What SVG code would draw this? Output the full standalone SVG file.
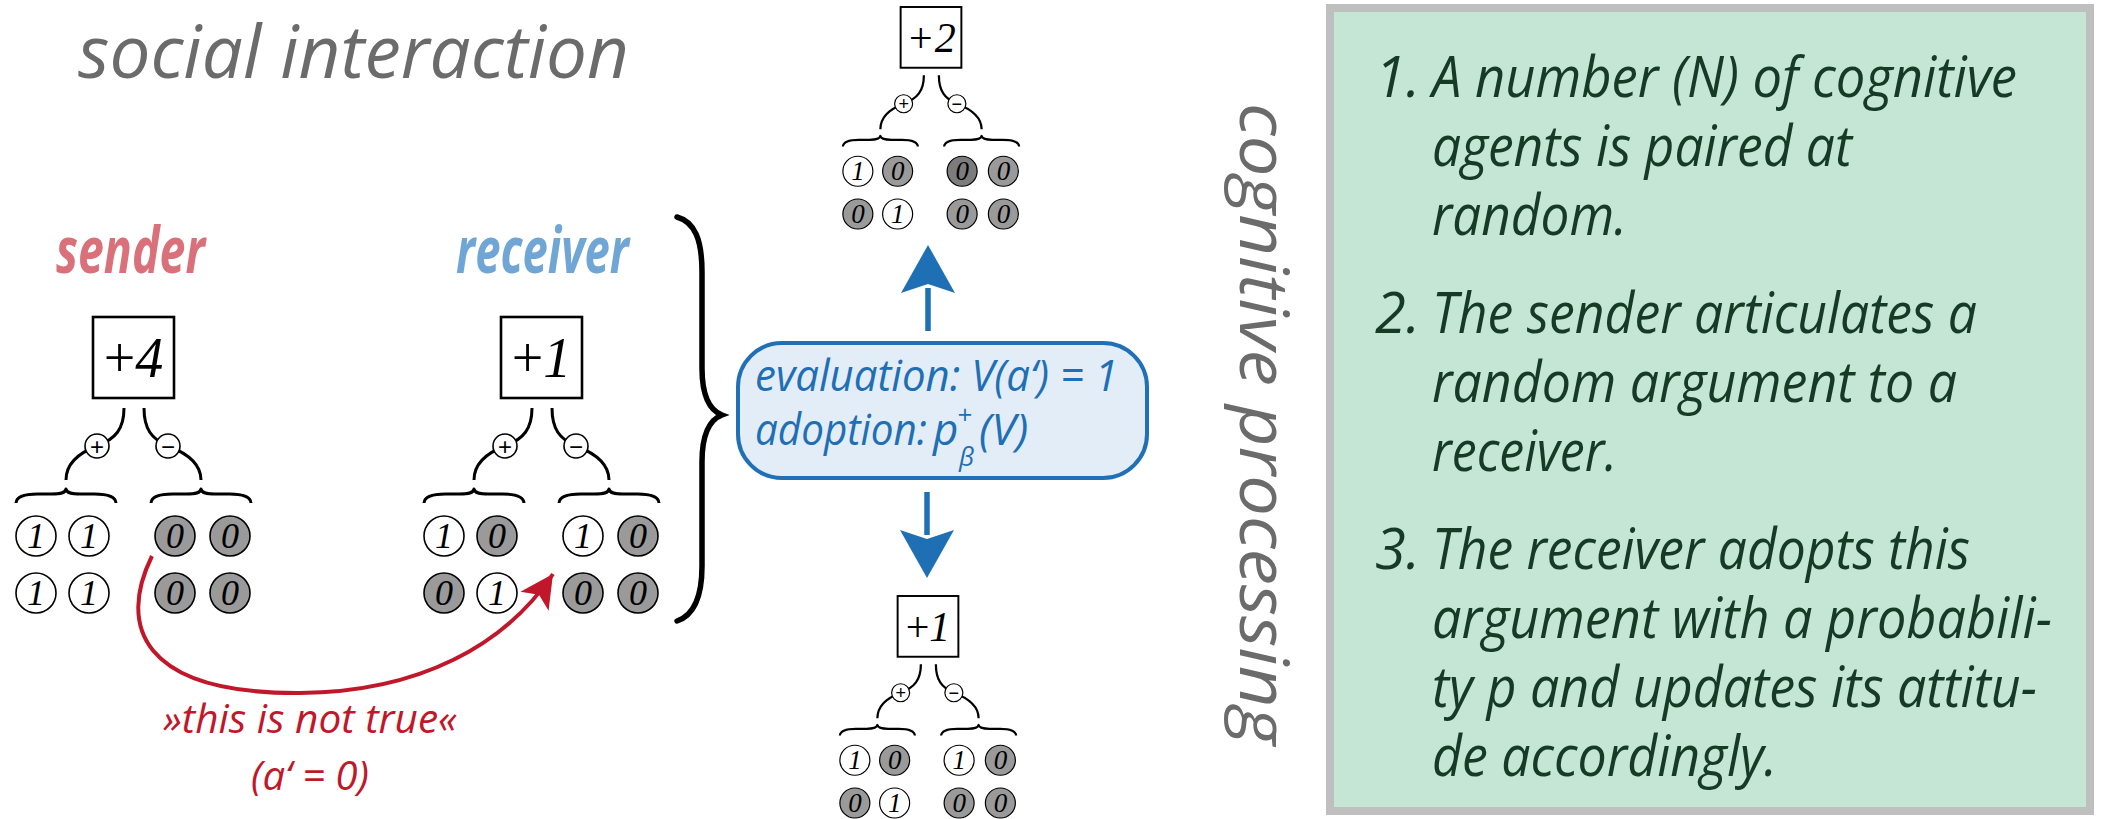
<svg xmlns="http://www.w3.org/2000/svg" width="2103" height="819" viewBox="0 0 2103 819">
<style>
.box{fill:#fff;stroke:#000;stroke-width:2.6}
.val{font-family:"Liberation Serif",serif;font-size:56px;font-style:italic;text-anchor:middle;fill:#000}
.up{font-style:normal}
.ln{fill:none;stroke:#000;stroke-width:3;stroke-linecap:butt}
.br{fill:none;stroke:#000;stroke-width:3;stroke-linejoin:round}
.sg{fill:#fff;stroke:#000;stroke-width:1.6}
.sgt{font-family:"Liberation Sans",sans-serif;font-size:24px;text-anchor:middle;fill:#000}
.w{fill:#fff;stroke:#000;stroke-width:1.6}
.g{fill:#9a9a9a;stroke:#000;stroke-width:1.6}
.gd{fill:#7c7c7c;stroke:#000;stroke-width:1.6}
.d{font-family:"Liberation Serif",serif;font-size:36px;font-style:italic;text-anchor:middle;fill:#000}
.gt{font-family:"Open Sans","Noto Sans",sans-serif;font-style:italic;font-size:56px;fill:#173a27}
.num{text-anchor:end}
.mid{font-family:"Open Sans","Noto Sans",sans-serif;font-style:italic;font-size:44px;fill:#1f6fb5}
.big{font-family:"Open Sans","Noto Sans",sans-serif;font-style:italic;font-weight:400;fill:#6b6b6b}
.role{font-family:"Open Sans","Noto Sans",sans-serif;font-style:italic;font-weight:700;font-size:64px}
.red{font-family:"Open Sans","Noto Sans",sans-serif;font-style:italic;font-size:40px;fill:#c0182a;text-anchor:middle}
</style>
<defs>
<marker id="redhead" markerUnits="userSpaceOnUse" markerWidth="40" markerHeight="40" refX="0" refY="0" viewBox="-34 -20 40 40" orient="auto">
<path d="M0,0 L-33,-17 L-25,0 L-33,17 Z" fill="#c0182a"/>
</marker>
</defs>

<!-- titles -->
<g id="title-social">
<text class="big" x="78" y="78" font-size="74" textLength="551" lengthAdjust="spacingAndGlyphs">social interaction</text>
</g>
<g id="label-sender">
<text class="role" x="56" y="273" fill="#d9707a" textLength="149" lengthAdjust="spacingAndGlyphs">sender</text>
</g>
<g id="label-receiver">
<text class="role" x="456" y="273" fill="#6fa6d5" textLength="173" lengthAdjust="spacingAndGlyphs">receiver</text>
</g>
<g id="title-cognitive">
<text class="big" transform="translate(1240,103) rotate(90)" x="0" y="0" font-size="68" textLength="642" lengthAdjust="spacingAndGlyphs">cognitive processing</text>
</g>

<!-- sender tree -->
<g id="sender" transform="translate(133.5,317)">
<rect class="box" x="-40.5" y="0" width="81" height="81"/>
<text class="val" x="0" y="60"><tspan class="up">+</tspan>4</text>
<path class="ln" d="M-9.5,91 C-9.5,112 -18,122 -36.5,129 C-55,136 -67.5,146 -67.5,163"/>
<path class="ln" d="M10.5,91 C10.5,112 18,122 34.5,129 C53,136 67.5,146 67.5,163"/>
<circle class="sg" cx="-36.5" cy="129" r="12"/><text class="sgt" x="-36.5" y="137.5">+</text>
<circle class="sg" cx="34.5" cy="129" r="12"/><text class="sgt" x="34.5" y="137.5">−</text>
<path class="br" d="M-117.5,186 C-117,179 -108,177 -96,177 L-82,177 C-73,177 -68,176 -67.5,172 C-67,176 -62,177 -53,177 L-39,177 C-27,177 -18,179 -17.5,186"/>
<path class="br" d="M17.5,186 C18,179 27,177 39,177 L53,177 C62,177 67,176 67.5,172 C68,176 73,177 82,177 L96,177 C108,177 117,179 117.5,186"/>
<circle class="w" cx="-97.5" cy="219" r="20"/><text class="d" x="-97.5" y="231">1</text>
<circle class="w" cx="-44.5" cy="219" r="20"/><text class="d" x="-44.5" y="231">1</text>
<circle class="g" cx="41.5" cy="219" r="20"/><text class="d" x="41.5" y="231">0</text>
<circle class="g" cx="96.5" cy="219" r="20"/><text class="d" x="96.5" y="231">0</text>
<circle class="w" cx="-97.5" cy="276" r="20"/><text class="d" x="-97.5" y="288">1</text>
<circle class="w" cx="-44.5" cy="276" r="20"/><text class="d" x="-44.5" y="288">1</text>
<circle class="g" cx="41.5" cy="276" r="20"/><text class="d" x="41.5" y="288">0</text>
<circle class="g" cx="96.5" cy="276" r="20"/><text class="d" x="96.5" y="288">0</text>
</g>

<!-- receiver tree -->
<g id="receiver" transform="translate(541.5,317)">
<rect class="box" x="-40.5" y="0" width="81" height="81"/>
<text class="val" x="0" y="60"><tspan class="up">+</tspan>1</text>
<path class="ln" d="M-9.5,91 C-9.5,112 -18,122 -36.5,129 C-55,136 -67.5,146 -67.5,163"/>
<path class="ln" d="M10.5,91 C10.5,112 18,122 34.5,129 C53,136 67.5,146 67.5,163"/>
<circle class="sg" cx="-36.5" cy="129" r="12"/><text class="sgt" x="-36.5" y="137.5">+</text>
<circle class="sg" cx="34.5" cy="129" r="12"/><text class="sgt" x="34.5" y="137.5">−</text>
<path class="br" d="M-117.5,186 C-117,179 -108,177 -96,177 L-82,177 C-73,177 -68,176 -67.5,172 C-67,176 -62,177 -53,177 L-39,177 C-27,177 -18,179 -17.5,186"/>
<path class="br" d="M17.5,186 C18,179 27,177 39,177 L53,177 C62,177 67,176 67.5,172 C68,176 73,177 82,177 L96,177 C108,177 117,179 117.5,186"/>
<circle class="w" cx="-97.5" cy="219" r="20"/><text class="d" x="-97.5" y="231">1</text>
<circle class="g" cx="-44.5" cy="219" r="20"/><text class="d" x="-44.5" y="231">0</text>
<circle class="w" cx="41.5" cy="219" r="20"/><text class="d" x="41.5" y="231">1</text>
<circle class="g" cx="96.5" cy="219" r="20"/><text class="d" x="96.5" y="231">0</text>
<circle class="g" cx="-97.5" cy="276" r="20"/><text class="d" x="-97.5" y="288">0</text>
<circle class="w" cx="-44.5" cy="276" r="20"/><text class="d" x="-44.5" y="288">1</text>
<circle class="g" cx="41.5" cy="276" r="20"/><text class="d" x="41.5" y="288">0</text>
<circle class="g" cx="96.5" cy="276" r="20"/><text class="d" x="96.5" y="288">0</text>
</g>

<!-- big brace -->
<g id="brace">
<path d="M677,217 C695,222 702,240 702,272 L702,368 C702,395 709,410 722,415 C709,420 702,435 702,462 L702,566 C702,596 695,615 677,621" fill="none" stroke="#000" stroke-width="5.5" stroke-linecap="round"/>
</g>

<!-- top tree (rejected) -->
<g id="outcome-reject" transform="translate(931,7) scale(0.75)">
<rect class="box" x="-40.5" y="0" width="81" height="81"/>
<text class="val" x="0" y="60" font-style="normal">+2</text>
<path class="ln" d="M-9.5,91 C-9.5,112 -18,122 -36.5,129 C-55,136 -67.5,146 -67.5,163"/>
<path class="ln" d="M10.5,91 C10.5,112 18,122 34.5,129 C53,136 67.5,146 67.5,163"/>
<circle class="sg" cx="-36.5" cy="129" r="12"/><text class="sgt" x="-36.5" y="137.5">+</text>
<circle class="sg" cx="34.5" cy="129" r="12"/><text class="sgt" x="34.5" y="137.5">−</text>
<path class="br" d="M-117.5,186 C-117,179 -108,177 -96,177 L-82,177 C-73,177 -68,176 -67.5,172 C-67,176 -62,177 -53,177 L-39,177 C-27,177 -18,179 -17.5,186"/>
<path class="br" d="M17.5,186 C18,179 27,177 39,177 L53,177 C62,177 67,176 67.5,172 C68,176 73,177 82,177 L96,177 C108,177 117,179 117.5,186"/>
<circle class="w" cx="-97.5" cy="219" r="20"/><text class="d" x="-97.5" y="231">1</text>
<circle class="g" cx="-44.5" cy="219" r="20"/><text class="d" x="-44.5" y="231">0</text>
<circle class="gd" cx="41.5" cy="219" r="20"/><text class="d" x="41.5" y="231">0</text>
<circle class="g" cx="96.5" cy="219" r="20"/><text class="d" x="96.5" y="231">0</text>
<circle class="g" cx="-97.5" cy="276" r="20"/><text class="d" x="-97.5" y="288">0</text>
<circle class="w" cx="-44.5" cy="276" r="20"/><text class="d" x="-44.5" y="288">1</text>
<circle class="g" cx="41.5" cy="276" r="20"/><text class="d" x="41.5" y="288">0</text>
<circle class="g" cx="96.5" cy="276" r="20"/><text class="d" x="96.5" y="288">0</text>
</g>

<!-- bottom tree (unchanged) -->
<g id="outcome-keep" transform="translate(928,596) scale(0.75)">
<rect class="box" x="-40.5" y="0" width="81" height="81"/>
<text class="val" x="0" y="60"><tspan class="up">+</tspan>1</text>
<path class="ln" d="M-9.5,91 C-9.5,112 -18,122 -36.5,129 C-55,136 -67.5,146 -67.5,163"/>
<path class="ln" d="M10.5,91 C10.5,112 18,122 34.5,129 C53,136 67.5,146 67.5,163"/>
<circle class="sg" cx="-36.5" cy="129" r="12"/><text class="sgt" x="-36.5" y="137.5">+</text>
<circle class="sg" cx="34.5" cy="129" r="12"/><text class="sgt" x="34.5" y="137.5">−</text>
<path class="br" d="M-117.5,186 C-117,179 -108,177 -96,177 L-82,177 C-73,177 -68,176 -67.5,172 C-67,176 -62,177 -53,177 L-39,177 C-27,177 -18,179 -17.5,186"/>
<path class="br" d="M17.5,186 C18,179 27,177 39,177 L53,177 C62,177 67,176 67.5,172 C68,176 73,177 82,177 L96,177 C108,177 117,179 117.5,186"/>
<circle class="w" cx="-97.5" cy="219" r="20"/><text class="d" x="-97.5" y="231">1</text>
<circle class="g" cx="-44.5" cy="219" r="20"/><text class="d" x="-44.5" y="231">0</text>
<circle class="w" cx="41.5" cy="219" r="20"/><text class="d" x="41.5" y="231">1</text>
<circle class="g" cx="96.5" cy="219" r="20"/><text class="d" x="96.5" y="231">0</text>
<circle class="g" cx="-97.5" cy="276" r="20"/><text class="d" x="-97.5" y="288">0</text>
<circle class="w" cx="-44.5" cy="276" r="20"/><text class="d" x="-44.5" y="288">1</text>
<circle class="g" cx="41.5" cy="276" r="20"/><text class="d" x="41.5" y="288">0</text>
<circle class="g" cx="96.5" cy="276" r="20"/><text class="d" x="96.5" y="288">0</text>
</g>

<!-- evaluation box -->
<g id="evaluation">
<rect x="738" y="343" width="409" height="135" rx="44" ry="44" fill="#e3edf7" stroke="#2070b8" stroke-width="4"/>
<text class="mid" x="755" y="391" textLength="363" lengthAdjust="spacingAndGlyphs">evaluation: V(a‘) = 1</text>
<text class="mid" x="755" y="445"><tspan textLength="172" lengthAdjust="spacingAndGlyphs">adoption:</tspan><tspan x="933">p</tspan><tspan x="957" y="424" font-size="26">+</tspan><tspan x="959" y="466" font-size="26">β</tspan><tspan x="979" y="445">(V)</tspan></text>
</g>

<!-- explanation box -->
<g id="steps">
<rect x="1330" y="8" width="760" height="803" fill="#c5e6d5" stroke="#bfbfbf" stroke-width="8"/>
<text class="gt num" x="1420" y="97">1.</text>
<text class="gt" x="1432" y="97" textLength="585" lengthAdjust="spacingAndGlyphs">A number (N) of cognitive</text>
<text class="gt" x="1432" y="166" textLength="420" lengthAdjust="spacingAndGlyphs">agents is paired at</text>
<text class="gt" x="1432" y="235" textLength="195" lengthAdjust="spacingAndGlyphs">random.</text>
<text class="gt num" x="1420" y="333">2.</text>
<text class="gt" x="1432" y="333" textLength="545" lengthAdjust="spacingAndGlyphs">The sender articulates a</text>
<text class="gt" x="1432" y="402" textLength="525" lengthAdjust="spacingAndGlyphs">random argument to a</text>
<text class="gt" x="1432" y="471" textLength="185" lengthAdjust="spacingAndGlyphs">receiver.</text>
<text class="gt num" x="1420" y="569">3.</text>
<text class="gt" x="1432" y="569" textLength="538" lengthAdjust="spacingAndGlyphs">The receiver adopts this</text>
<text class="gt" x="1432" y="638" textLength="620" lengthAdjust="spacingAndGlyphs">argument with a probabili-</text>
<text class="gt" x="1432" y="707" textLength="605" lengthAdjust="spacingAndGlyphs">ty p and updates its attitu-</text>
<text class="gt" x="1432" y="776" textLength="345" lengthAdjust="spacingAndGlyphs">de accordingly.</text>
</g>

<!-- red message label -->
<g id="message-label">
<text class="red" x="310" y="733" textLength="294" lengthAdjust="spacingAndGlyphs">»this is not true«</text>
<text class="red" x="310" y="790">(a‘ = 0)</text>
</g>

<!-- connectors -->
<g id="connectors">
<path d="M152,556 C118,625 140,694 300,693 C420,692 505,645 553,574" fill="none" stroke="#c0182a" stroke-width="4" marker-end="url(#redhead)"/>
<line x1="928" y1="288" x2="928" y2="331" stroke="#1f6fb5" stroke-width="5.5"/>
<path d="M928,245 L955,293 L928,284 L901,293 Z" fill="#1f6fb5"/>
<line x1="927" y1="492" x2="927" y2="535" stroke="#1f6fb5" stroke-width="5.5"/>
<path d="M927,578 L954,530 L927,539 L900,530 Z" fill="#1f6fb5"/>
</g>
</svg>
